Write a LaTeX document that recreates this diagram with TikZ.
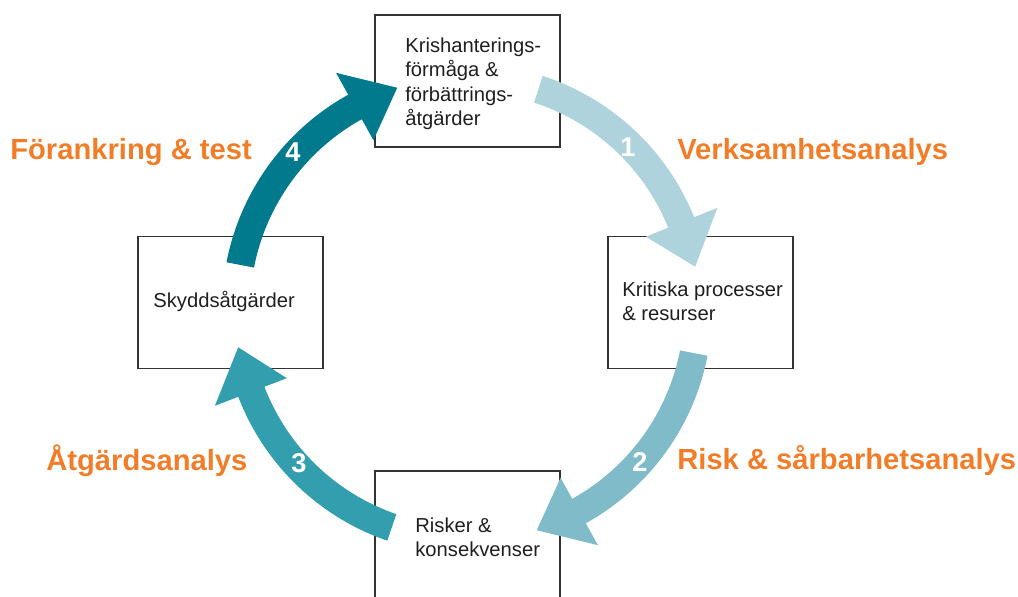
\documentclass[tikz,border=0pt]{standalone}
\usepackage{fontspec}
\setmainfont{Liberation Sans}

\definecolor{phaseorange}{RGB}{242,125,40}
\definecolor{stepone}{RGB}{174,211,220}
\definecolor{steptwo}{RGB}{128,187,201}
\definecolor{stepthree}{RGB}{51,158,173}
\definecolor{stepfour}{RGB}{0,122,140}
\definecolor{boxline}{RGB}{51,51,51}

\tikzset{
  box/.style={draw=boxline, line width=0.75pt, minimum width=3.7cm, minimum height=2.64cm, inner sep=0pt},
  boxtext/.style={anchor=base west, align=left, inner sep=0pt, text=black!88,
    font=\fontsize{11.5}{13.9}\selectfont},
  phase/.style={anchor=base west, inner sep=0pt, text=phaseorange,
    font=\fontsize{16.6}{19}\selectfont\bfseries},
  stepnum/.style={inner sep=0pt, text=white, font=\fontsize{15.5}{18}\selectfont\bfseries}
}

\begin{document}
\begin{tikzpicture}[x=0.02cm, y=0.02cm]
        \useasboundingbox (0,0) rectangle (1018,-597);
        \clip (0,0) rectangle (1018,-597);

        % one thick curved arrow: colour, tail angle
        \def\cyclearrow#1#2{%
          \fill[#1] ({#2}:245) arc[start angle={#2}, end angle={#2-50}, radius=245]
            -- ({#2-50}:270) -- ({#2-61.5}:232) -- ({#2-50}:193) -- ({#2-50}:217)
            arc[start angle={#2-50}, end angle={#2}, radius=217] -- cycle;}

        \node[box] (kris) at (467.5,-81) {};
        \node[box] (kritiska) at (700.5,-302.5) {};
        \node[box] (skydd) at (230.5,-302.5) {};
        \node[box] (risker) at (467.5,-537) {};

        \begin{scope}[shift={(467,-309)}]
          \cyclearrow{stepone}{72}
          \cyclearrow{steptwo}{-11}
          \cyclearrow{stepthree}{251}
          \cyclearrow{stepfour}{169}
        \end{scope}

        % base of a multi-line text = its last line
        \node[boxtext] (kristext) at (405,-125.5) {Krishanterings-\\förmåga \&\\förbättrings-\\åtgärder};
        \node[boxtext] (kritisktext) at (622,-321) {Kritiska processer\\\& resurser};
        \node[boxtext] (skyddtext) at (153,-308) {Skyddsåtgärder};
        \node[boxtext] (riskertext) at (415,-556.7) {Risker \&\\konsekvenser};

        \node[stepnum] (num1) at (628,-147) {1};
        \node[stepnum] (num2) at (640,-462) {2};
        \node[stepnum] (num3) at (299,-463) {3};
        \node[stepnum] (num4) at (293,-152) {4};

        \node[phase] (verksamhet) at (677,-159.3) {Verksamhetsanalys};
        \node[phase] (sarbarhet) at (677,-469.3) {Risk \& sårbarhetsanalys};
        \node[phase] (atgard) at (46,-471) {Åtgärdsanalys};
        \node[phase] (forankring) at (10,-159.3) {Förankring \& test};
     \end{tikzpicture}
\end{document}
